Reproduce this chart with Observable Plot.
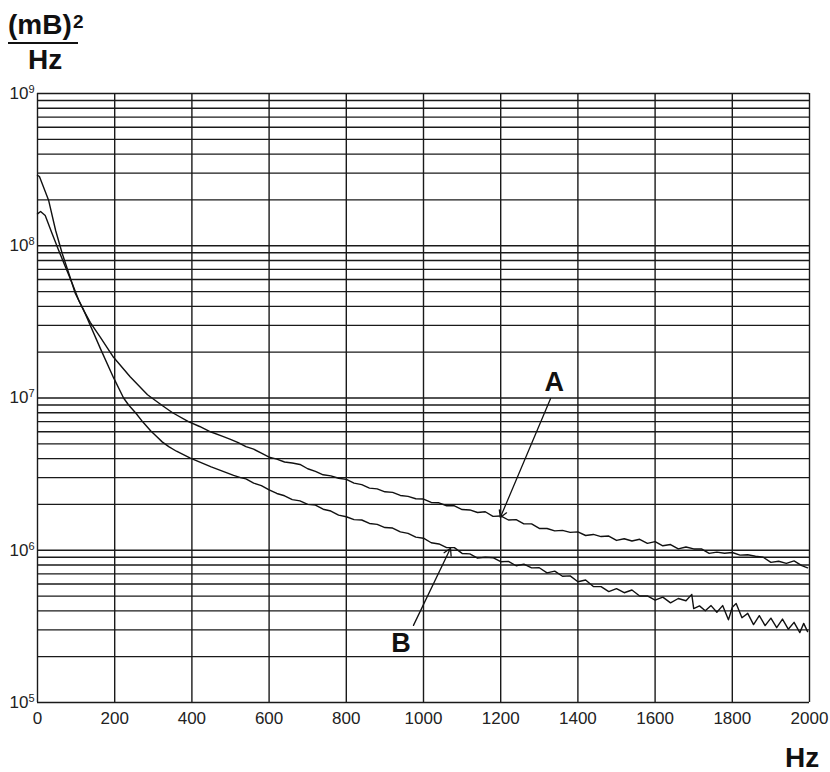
<!DOCTYPE html>
<html><head><meta charset="utf-8">
<script src="https://cdn.jsdelivr.net/npm/d3@7"></script>
<script src="https://cdn.jsdelivr.net/npm/@observablehq/plot@0.6"></script>
<style>
body{margin:0;background:#fff;font-family:"Liberation Sans",Arial,Helvetica,sans-serif;}
#wrap{position:relative;width:830px;height:772px;}
.lbl{position:absolute;font-weight:bold;color:#111;line-height:1;white-space:nowrap;}
</style></head><body><div id="wrap"></div>
<script>
// Curve A (Hz, (mB)^2/Hz)
const freqA = [0,8,20,38,55,73,90,107,120,137,163,197,240,285,324,350,391,420,448,480,500,
520,540,560,580,600,620,640,660,680,700,720,740,760,780,800,820,840,860,880,900,920,940,960,980,1000,
1020,1040,1060,1080,1100,1120,1140,1160,1180,1200,1220,1240,1260,1280,1300,1320,1340,1360,1380,1400,
1420,1440,1460,1480,1500,1520,1540,1560,1580,1600,1620,1640,1660,1680,1700,1720,1740,1760,1780,1800,
1820,1840,1860,1880,1900,1920,1940,1960,1980,1995];
const valueA = [1.62e8,1.68e8,1.58e8,1.20e8,9.3e7,7.2e7,5.65e7,4.37e7,3.75e7,3.13e7,2.50e7,1.85e7,1.38e7,1.05e7,8.9e6,8.0e6,7.0e6,6.5e6,6.0e6,5.6e6,5.35e6,
5.09e6,4.79e6,4.61e6,4.34e6,4.09e6,3.97e6,3.80e6,3.74e6,3.66e6,3.43e6,3.30e6,3.13e6,3.08e6,2.97e6,2.92e6,2.76e6,2.70e6,2.56e6,2.53e6,2.42e6,2.40e6,2.29e6,2.26e6,2.18e6,2.17e6,
2.06e6,2.05e6,1.96e6,1.96e6,1.85e6,1.84e6,1.77e6,1.79e6,1.67e6,1.68e6,1.58e6,1.59e6,1.49e6,1.49e6,1.39e6,1.39e6,1.34e6,1.35e6,1.31e6,1.32e6,
1.25e6,1.27e6,1.23e6,1.24e6,1.16e6,1.19e6,1.15e6,1.18e6,1.11e6,1.14e6,1.07e6,1.09e6,1.02e6,1.05e6,1.02e6,1.02e6,9.53e5,9.72e5,9.55e5,9.66e5,
9.29e5,9.35e5,9.14e5,8.99e5,8.32e5,8.47e5,8.20e5,8.51e5,7.93e5,7.67e5];

// Curve B
const freqB = [0,5,29,47,64,81,98,120,163,197,223,236,254,272,293,308,323,340,360,396,450,508,526,
540,560,580,600,620,640,660,680,700,720,740,760,780,800,820,840,860,880,900,920,940,960,980,1000,
1020,1040,1060,1080,1100,1120,1140,1160,1180,1200,1220,1240,1260,1280,1300,1320,1340,1360,1380,1400,
1420,1440,1460,1480,1500,1520,1540,1560,1580,1600,1620,1640,1660,1680,1695,1700,1715,1730,1745,1760,1775,1790,1800,1810,
1825,1840,1855,1870,1885,1900,1915,1930,1945,1960,1975,1985,1995];
const valueB = [2.9e8,2.85e8,1.98e8,1.26e8,8.9e7,6.6e7,4.86e7,3.76e7,2.11e7,1.36e7,1.0e7,9.0e6,8.0e6,7.0e6,6.1e6,5.6e6,5.15e6,4.79e6,4.47e6,4.03e6,3.53e6,3.1e6,3.0e6,
2.94e6,2.76e6,2.66e6,2.49e6,2.36e6,2.28e6,2.15e6,2.11e6,2.00e6,1.98e6,1.86e6,1.81e6,1.70e6,1.66e6,1.59e6,1.58e6,1.50e6,1.48e6,1.41e6,1.40e6,1.32e6,1.29e6,1.22e6,1.20e6,
1.12e6,1.10e6,1.04e6,1.04e6,9.53e5,9.46e5,8.87e5,8.99e5,8.93e5,8.41e5,8.45e5,7.91e5,8.11e5,7.66e5,7.67e5,7.10e5,7.29e5,6.75e5,6.79e5,6.21e5,
6.38e5,5.78e5,5.77e5,5.35e5,5.60e5,5.26e5,5.48e5,5.01e5,5.01e5,4.70e5,4.92e5,4.51e5,4.82e5,4.66e5,5.13e5,4.14e5,4.31e5,4.01e5,4.33e5,3.92e5,4.33e5,3.49e5,4.22e5,4.47e5,
3.60e5,3.85e5,3.25e5,3.72e5,3.20e5,3.58e5,3.10e5,3.53e5,3.03e5,3.36e5,2.88e5,3.31e5,2.92e5];

const xTicks = [0,200,400,600,800,1000,1200,1400,1600,1800,2000];
const yTicks = [1e5,1e6,1e7,1e8,1e9];
const decades = [1e5,1e6,1e7,1e8];
const multipliers = [1,2,3,4,5,6,7,8,9];
const yGrid = decades.flatMap(d => multipliers.map(m => m * d)).concat([1e9]);

// annotations: label text, label position, arrow start and tip (data units)
const labels = [
  {text: "A", x: 1339, y: 1.26e7, x1: 1329, y1: 9.9e6, x2: 1199, y2: 1.64e6},
  {text: "B", x: 942, y: 2.44e5, x1: 974, y1: 3.21e5, x2: 1070, y2: 1.03e6}
];

const seriesA = freqA.map((f, i) => ({f, v: valueA[i]}));
const seriesB = freqB.map((f, i) => ({f, v: valueB[i]}));

const ink = "#1a1a1a";
const chart = Plot.plot({
  width: 830,
  height: 772,
  marginLeft: 37,
  marginRight: 21,
  marginTop: 93,
  marginBottom: 70,
  style: {fontFamily: '"Liberation Sans", Arial, Helvetica, sans-serif', fontSize: "17px", color: "#222", background: "#fff"},
  x: {domain: [0, 2000], ticks: xTicks, tickSize: 0, tickPadding: 9, label: null, tickFormat: d => String(d)},
  y: {type: "log", domain: [1e5, 1e9], ticks: yTicks, tickSize: 0, tickPadding: 3, label: null,
      tickFormat: d => "10^" + Math.round(Math.log10(d))},
  marks: [
    Plot.ruleY(yGrid, {stroke: ink, strokeWidth: 1.4}),
    Plot.ruleX(xTicks, {stroke: ink, strokeWidth: 1.4}),
    Plot.line(seriesA, {x: "f", y: "v", stroke: "#111", strokeWidth: 1.4}),
    Plot.line(seriesB, {x: "f", y: "v", stroke: "#111", strokeWidth: 1.4}),
    Plot.arrow(labels, {x1: "x1", y1: "y1", x2: "x2", y2: "y2", stroke: "#111", strokeWidth: 1.3, headLength: 9, inset: 0}),
    Plot.text(labels, {x: "x", y: "y", text: "text", fontSize: 27, fontWeight: "bold", fill: "#111"})
  ]
});
// superscript exponents on the y tick labels
d3.select(chart).selectAll('g[aria-label="y-axis tick label"] text').each(function() {
  const t = d3.select(this);
  const parts = t.text().split("^");
  t.text(parts[0]).style("font-size", "17px");
  t.append("tspan").attr("dy", "-0.55em").style("font-size", "11px").text(parts[1]);
});
const wrap = document.getElementById("wrap");
wrap.appendChild(chart);

function addLabel(html, left, top, size) {
  const d = document.createElement("div");
  d.className = "lbl";
  d.style.left = left + "px";
  d.style.top = top + "px";
  d.style.fontSize = size + "px";
  d.innerHTML = html;
  wrap.appendChild(d);
}
addLabel("(mB)", 8, 11, 28);
addLabel("2", 73, 11.5, 19);
const bar = document.createElement("div");
bar.style.cssText = "position:absolute;left:8px;top:42px;width:70px;height:2px;background:#111;";
wrap.appendChild(bar);
addLabel("Hz", 28, 46, 28);
addLabel("Hz", 785, 744, 28);
</script>
</body></html>
